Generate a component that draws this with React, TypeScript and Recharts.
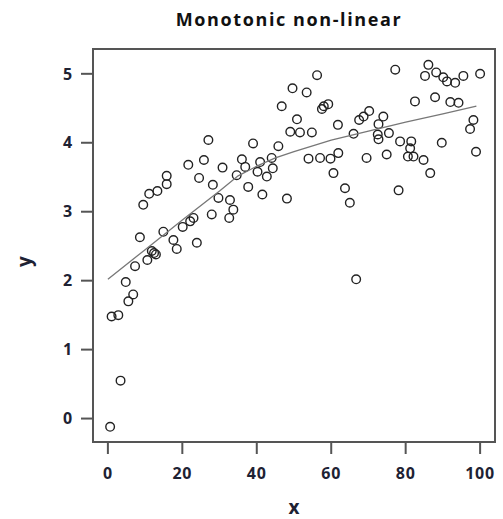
import { ScatterChart, Scatter, XAxis, YAxis, Label, ReferenceArea } from "recharts";

const xs = [
  0.6, 3.4, 1.0, 2.8, 5.5, 6.8, 4.8, 7.3, 10.6, 12.4, 11.8, 12.9, 18.5, 17.6, 8.6, 14.9, 20.1, 22.1,
  23.0, 23.9, 27.9, 9.5, 11.1, 13.3, 15.8, 15.8, 21.6, 25.8, 27.0, 24.5, 28.2, 29.7, 30.8, 32.6,
  33.7, 32.8, 34.6, 36.0, 36.9, 37.7, 39.0, 40.2, 40.9, 41.5, 42.7, 44.0, 44.3, 45.8, 46.7, 48.1,
  49.0, 49.6, 50.8, 51.6, 53.4, 54.8, 53.9, 56.2, 57.0, 57.5, 58.0, 59.2, 59.8, 60.6, 61.9, 61.8,
  63.7, 65.0, 66.7, 66.0, 67.5, 68.7, 70.2, 69.5, 72.7, 72.5, 72.7, 74.0, 75.5, 74.9, 77.2, 78.1,
  78.5, 81.5, 81.2, 80.6, 82.1, 82.5, 84.8, 86.6, 85.2, 86.1, 87.9, 88.2, 89.7, 90.1, 91.1, 92.0,
  93.3, 94.2, 95.5, 97.3, 98.2, 98.9, 100.0,
];
const ys = [
  -0.12, 0.55, 1.48, 1.5, 1.7, 1.8, 1.98, 2.21, 2.3, 2.4, 2.43, 2.38, 2.46, 2.59, 2.63, 2.71, 2.78, 2.86,
  2.91, 2.55, 2.96, 3.1, 3.26, 3.3, 3.4, 3.52, 3.68, 3.75, 4.04, 3.49, 3.39, 3.2, 3.64, 2.91,
  3.03, 3.17, 3.53, 3.76, 3.65, 3.36, 3.99, 3.58, 3.72, 3.25, 3.51, 3.78, 3.63, 3.95, 4.53, 3.19,
  4.16, 4.79, 4.34, 4.15, 4.73, 4.15, 3.77, 4.98, 3.78, 4.49, 4.53, 4.56, 3.77, 3.56, 3.85, 4.26,
  3.34, 3.13, 2.02, 4.13, 4.33, 4.38, 4.46, 3.78, 4.27, 4.12, 4.05, 4.38, 4.14, 3.83, 5.06, 3.31,
  4.02, 4.02, 3.92, 3.8, 3.8, 4.6, 3.75, 3.56, 4.97, 5.13, 4.66, 5.02, 4.0, 4.95, 4.89, 4.59,
  4.87, 4.58, 4.97, 4.2, 4.33, 3.87, 5.0,
];

// smooth fit line
const fitX = [0, 10, 20, 30, 35, 40, 45, 50, 60, 70, 80, 90, 99];
const fitY = [2.02, 2.45, 2.88, 3.3, 3.52, 3.66, 3.78, 3.87, 4.04, 4.17, 4.3, 4.42, 4.53];

const xTicks = [0, 20, 40, 60, 80, 100];
const yTicks = [0, 1, 2, 3, 4, 5];
const xDomain = [-4, 104];
const yDomain = [-0.34, 5.36];

const points = xs.map((x, i) => ({ x, y: ys[i] }));
const fit = fitX.map((x, i) => ({ x, y: fitY[i] }));

const AXIS = "#555";
const TEXT = "#1e2233";
const FONT = "'Open Sans', sans-serif";

const OpenCircle = (props: any) => (
  <circle cx={props.cx} cy={props.cy} r={4.3} fill="none" stroke="#222" strokeWidth={1.4} />
);

const NoDot = () => <g />;

export default function App() {
  const tickStyle = { fill: TEXT, fontSize: 16, fontWeight: 700, fontFamily: FONT, letterSpacing: 0.8 };
  return (
    <div style={{ position: "absolute", left: 0, top: 0, width: 503, height: 519, background: "#fff" }}>
      <ScatterChart width={503} height={519} margin={{ top: 49, right: 8, bottom: 0, left: 0 }}>
        <XAxis
          type="number"
          dataKey="x"
          domain={xDomain}
          ticks={xTicks}
          height={77}
          tickSize={12}
          tickMargin={14}
          axisLine={{ stroke: AXIS, strokeWidth: 2 }}
          tickLine={{ stroke: AXIS, strokeWidth: 2 }}
          tick={tickStyle}
        >
          <Label
            content={(p: any) => (
              <g>
                <text
                  x={p.viewBox.x + p.viewBox.width / 2}
                  y={p.viewBox.y + 72}
                  textAnchor="middle"
                  fill={TEXT}
                  fontSize={19}
                  fontWeight={700}
                  fontFamily={FONT}
                >
                  x
                </text>
                <text
                  x={p.viewBox.x + p.viewBox.width / 2 - 5}
                  y={26}
                  textAnchor="middle"
                  fill="#111"
                  fontSize={18}
                  fontWeight={700}
                  letterSpacing={1.6}
                  fontFamily={FONT}
                >
                  Monotonic non-linear
                </text>
              </g>
            )}
          />
        </XAxis>
        <YAxis
          type="number"
          dataKey="y"
          domain={yDomain}
          ticks={yTicks}
          width={93}
          tickSize={12}
          tickMargin={8}
          axisLine={{ stroke: AXIS, strokeWidth: 2 }}
          tickLine={{ stroke: AXIS, strokeWidth: 2 }}
          tick={tickStyle}
        >
          <Label
            content={(p: any) => {
              const cx = 24;
              const cy = p.viewBox.y + p.viewBox.height / 2 + 16;
              return (
                <text
                  x={cx}
                  y={cy}
                  transform={`rotate(-90 ${cx} ${cy})`}
                  textAnchor="middle"
                  dominantBaseline="central"
                  fill={TEXT}
                  fontSize={19}
                  fontWeight={700}
                  fontFamily={FONT}
                >
                  y
                </text>
              );
            }}
          />
        </YAxis>
        <ReferenceArea
          x1={xDomain[0]}
          x2={xDomain[1]}
          y1={yDomain[0]}
          y2={yDomain[1]}
          fill="none"
          stroke={AXIS}
          strokeWidth={2}
          ifOverflow="visible"
        />
        <Scatter data={points} shape={OpenCircle} isAnimationActive={false} />
        <Scatter
          data={fit}
          shape={NoDot}
          line={{ stroke: "#777", strokeWidth: 1.3 }}
          isAnimationActive={false}
        />
      </ScatterChart>
    </div>
  );
}
